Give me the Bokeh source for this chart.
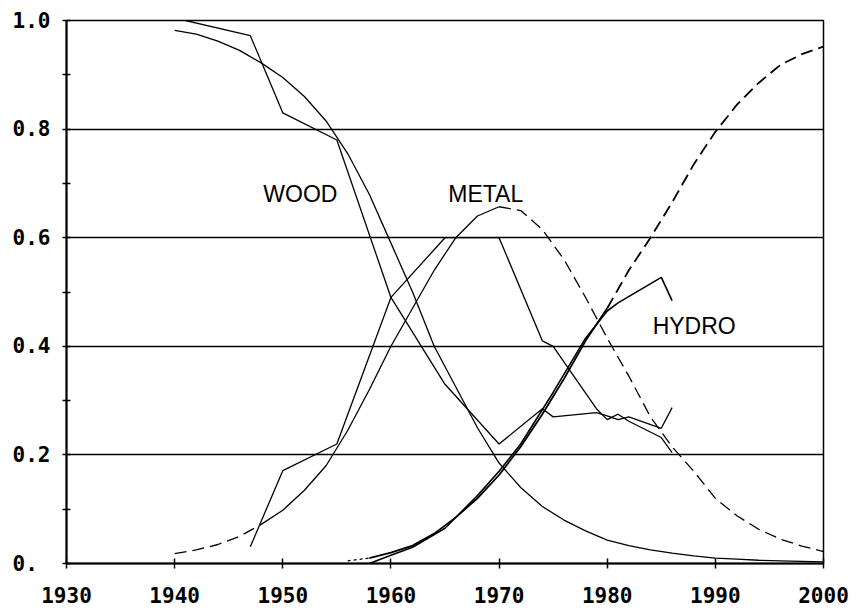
from bokeh.plotting import figure
from bokeh.models import Range1d, FixedTicker
from bokeh.core.properties import value
from bokeh.embed import file_html
from bokeh.resources import INLINE

# ---- data ----
fit_years = [1940, 1942, 1944, 1946, 1948, 1950, 1952, 1954, 1956, 1958, 1960,
             1962, 1964, 1966, 1968, 1970, 1972, 1974, 1976, 1978, 1980,
             1982, 1984, 1986, 1988, 1990, 1992, 1994, 1996, 1998, 2000]
wood_fit = [0.982, 0.975, 0.962, 0.945, 0.922, 0.895, 0.86, 0.815, 0.755, 0.68, 0.59,
            0.5, 0.4, 0.325, 0.25, 0.185, 0.14, 0.105, 0.08, 0.06, 0.043,
            0.033, 0.025, 0.019, 0.014, 0.01, 0.008, 0.006, 0.005, 0.004, 0.003]
metal_fit = [0.018, 0.025, 0.035, 0.05, 0.072, 0.098, 0.135, 0.18, 0.245, 0.32, 0.4,
             0.47, 0.54, 0.6, 0.64, 0.657, 0.65, 0.615, 0.56, 0.49, 0.415,
             0.345, 0.27, 0.215, 0.17, 0.12, 0.088, 0.063, 0.045, 0.032, 0.022]

hydro_fit_years = [1956, 1958, 1960, 1962, 1964, 1966, 1968, 1970, 1972, 1974, 1976,
                   1978, 1980, 1982, 1984, 1986, 1988, 1990, 1992, 1994, 1996, 1998, 2000]
hydro_fit = [0.005, 0.01, 0.02, 0.033, 0.055, 0.085, 0.12, 0.163, 0.215, 0.275, 0.34,
             0.41, 0.47, 0.54, 0.6, 0.665, 0.735, 0.795, 0.845, 0.885, 0.918, 0.938, 0.952]

wood_years = [1941, 1947, 1950, 1955, 1960, 1965, 1970, 1974, 1975, 1979, 1980, 1981, 1982, 1985, 1986]
wood_data = [1.0, 0.972, 0.83, 0.78, 0.49, 0.33, 0.22, 0.285, 0.27, 0.278, 0.272, 0.265, 0.27, 0.249, 0.287]

metal_years = [1947, 1950, 1955, 1960, 1965, 1970, 1974, 1975, 1979, 1980, 1981, 1982, 1985, 1986]
metal_data = [0.031, 0.171, 0.22, 0.49, 0.6, 0.6, 0.41, 0.40, 0.285, 0.265, 0.275, 0.262, 0.232, 0.204]

hydro_years = [1958, 1960, 1962, 1965, 1968, 1970, 1972, 1975, 1978, 1980, 1981, 1985, 1986]
hydro_data = [0.0, 0.015, 0.03, 0.065, 0.125, 0.17, 0.22, 0.315, 0.415, 0.465, 0.48, 0.527, 0.484]

series_names = ["WOOD", "METAL", "HYDRO"]
y_ticks = [0.0, 0.2, 0.4, 0.6, 0.8, 1.0]
y_tick_labels = ["0.\u00a0", "0.2", "0.4", "0.6", "0.8", "1.0"]
y_minor_ticks = [0.1, 0.3, 0.5, 0.7, 0.9]
x_ticks = [1930, 1940, 1950, 1960, 1970, 1980, 1990, 2000]

# ---- figure ----
p = figure(width=856, height=611, output_backend="svg", toolbar_location=None,
           x_range=Range1d(1930, 2000), y_range=Range1d(0, 1),
           min_border_left=66, min_border_right=33, min_border_top=20, min_border_bottom=48)
p.background_fill_color = "white"
p.border_fill_color = "white"
p.outline_line_color = "black"
p.outline_line_width = 1.5

p.xgrid.visible = False
p.ygrid.ticker = FixedTicker(ticks=y_ticks[1:])
p.ygrid.grid_line_color = "black"
p.ygrid.grid_line_width = 1.6

p.yaxis.ticker = FixedTicker(ticks=y_ticks, minor_ticks=y_minor_ticks)
p.yaxis.major_label_overrides = {t: l for t, l in zip(y_ticks, y_tick_labels)}
p.xaxis.ticker = FixedTicker(ticks=x_ticks)

for ax in (p.xaxis[0], p.yaxis[0]):
    ax.axis_line_color = "black"
    ax.axis_line_width = 2
    ax.major_tick_line_color = "black"
    ax.major_tick_line_width = 1.5
    ax.minor_tick_line_color = "black"
    ax.minor_tick_line_width = 1.5
    ax.major_label_text_font = "DejaVu Sans Mono"
    ax.major_label_text_font_size = "21px"
    ax.major_label_text_font_style = "bold"
    ax.major_label_text_color = "black"

p.xaxis.major_tick_in = 5
p.xaxis.major_tick_out = 5
p.xaxis.minor_tick_line_color = None
p.xaxis.major_label_standoff = 18

p.yaxis.major_tick_in = 4
p.yaxis.major_tick_out = 4
p.yaxis.minor_tick_in = 4
p.yaxis.minor_tick_out = 4
p.yaxis.major_label_standoff = 12

LW = 1.3
DASH = "12 6"

# wood fit (solid)
p.line(fit_years, wood_fit, line_color="black", line_width=LW)

# metal fit: dashed / solid / dashed
early = [(x, y) for x, y in zip(fit_years, metal_fit) if x <= 1948]
mid = [(x, y) for x, y in zip(fit_years, metal_fit) if 1948 <= x <= 1970]
late = [(x, y) for x, y in zip(fit_years, metal_fit) if x >= 1970]
p.line([a for a, b in early], [b for a, b in early], line_color="black", line_width=LW, line_dash=DASH)
p.line([a for a, b in mid], [b for a, b in mid], line_color="black", line_width=LW)
p.line([a for a, b in late], [b for a, b in late], line_color="black", line_width=LW, line_dash=DASH)

# hydro fit: dotted start / solid / dashed
h0 = [(x, y) for x, y in zip(hydro_fit_years, hydro_fit) if x <= 1958]
h1 = [(x, y) for x, y in zip(hydro_fit_years, hydro_fit) if 1958 <= x <= 1980]
h2 = [(x, y) for x, y in zip(hydro_fit_years, hydro_fit) if x >= 1980]
p.line([a for a, b in h0], [b for a, b in h0], line_color="black", line_width=LW, line_dash="3 3")
p.line([a for a, b in h1], [b for a, b in h1], line_color="black", line_width=1.8)
p.line([a for a, b in h2], [b for a, b in h2], line_color="black", line_width=1.8, line_dash=DASH)

# data lines
p.line(wood_years, wood_data, line_color="black", line_width=LW)
p.line(metal_years, metal_data, line_color="black", line_width=LW)
p.line(hydro_years, hydro_data, line_color="black", line_width=1.6)

# series labels
p.text(x=[1948.2, 1965.3, 1984.2], y=[0.681, 0.681, 0.438], text=series_names,
       text_font=value("Liberation Sans"), text_font_size="23px",
       text_color="black", text_align="left", text_baseline="alphabetic")

open("out.html", "w").write(file_html(p, INLINE))
